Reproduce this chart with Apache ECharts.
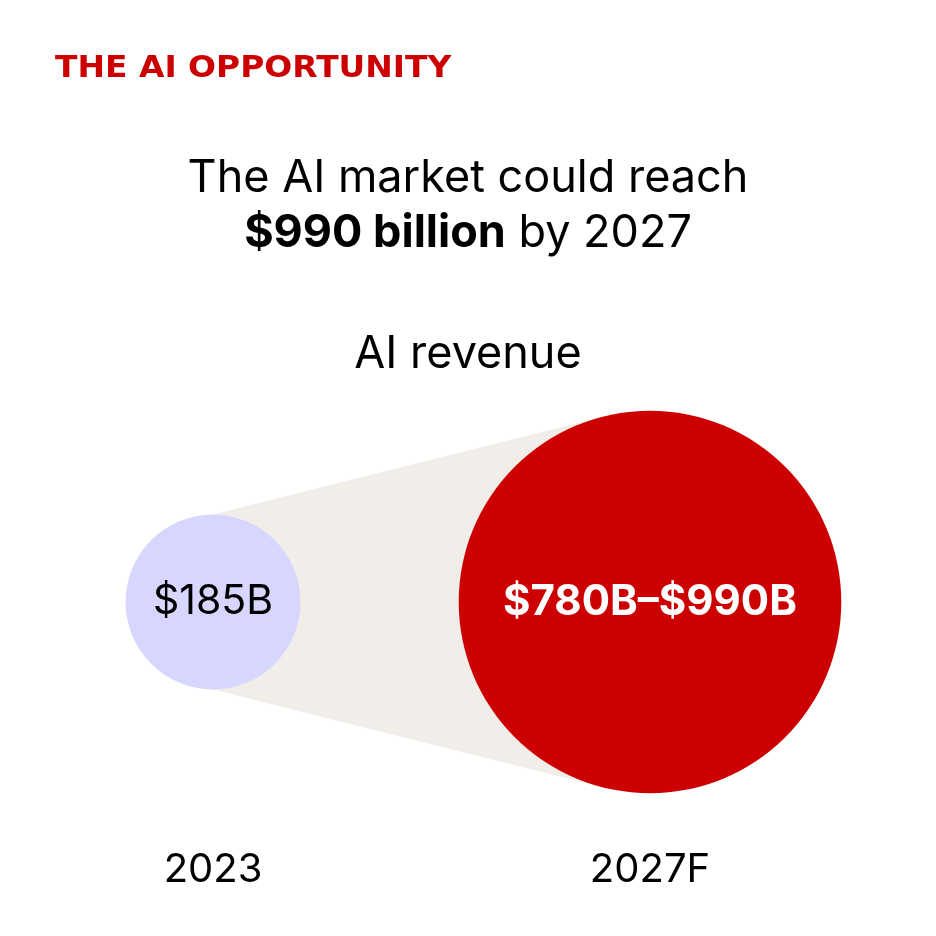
<!DOCTYPE html>
<html>
<head>
<meta charset="utf-8">
<script src="https://cdn.jsdelivr.net/npm/echarts@6/dist/echarts.min.js"></script>
<style>
  html, body { margin: 0; padding: 0; background: #ffffff; }
  #chart { width: 936px; height: 936px; }
</style>
</head>
<body>
<div id="chart"></div>
<script>
// ---- data ----
const categories = ['2023', '2027F'];
const revenueLow = [185, 780];    // $B
const revenueHigh = [185, 990];   // $B
const valueLabels = ['$185B', '$780B–$990B'];
const rowName = ['AI revenue'];

// ---- styling ----
const FONT = 'Inter, "Noto Sans", sans-serif';
const RED = '#cc0000';
const LAVENDER = '#d6d6ff';
const BEIGE = '#f1eee9';
const RADIUS_K = 6.43; // px per sqrt($B) -> circle area proportional to value

const mids = revenueLow.map((v, i) => (v + revenueHigh[i]) / 2);
const radiusOf = v => RADIUS_K * Math.sqrt(v);

const chart = echarts.init(document.getElementById('chart'), null, { renderer: 'canvas' });

const HEAD = { fontFamily: FONT, fontWeight: 'normal', fontSize: 45, lineHeight: 45, color: '#000' };

const option = {
  animation: false,
  backgroundColor: '#ffffff',
  graphic: [
    {
      type: 'text',
      x: 55, y: 69,
      scaleX: 1.097,
      silent: true,
      style: {
        text: 'THE AI OPPORTUNITY',
        fontFamily: '"DejaVu Sans", sans-serif',
        fontWeight: 'bold',
        fontSize: 30,
        fill: RED,
        align: 'left',
        verticalAlign: 'middle'
      }
    }
  ],
  title: [
    {
      text: 'The AI market could reach',
      left: 'center', top: 156, padding: 0,
      textStyle: HEAD
    },
    {
      text: '{b|$990 billion} {n|by 2027}',
      left: 'center', top: 211, padding: 0,
      textStyle: Object.assign({}, HEAD, {
        rich: {
          b: Object.assign({}, HEAD, { fontWeight: 'bold' }),
          n: HEAD
        }
      })
    },
    {
      text: rowName[0],
      left: 'center', top: 332, padding: 0,
      textStyle: HEAD
    }
  ],
  grid: { left: 213, right: 286, top: 412, bottom: 144 },
  xAxis: {
    type: 'category',
    data: categories,
    boundaryGap: false,
    axisLine: { show: false },
    axisTick: { show: false },
    splitLine: { show: false },
    axisLabel: {
      margin: 58,
      fontFamily: FONT, fontSize: 40, lineHeight: 40, color: '#000'
    }
  },
  yAxis: {
    type: 'category',
    data: rowName,
    show: false
  },
  series: [
    {
      type: 'custom',
      z: 1,
      silent: true,
      clip: false,
      data: [[0, 0]],
      renderItem: function (params, api) {
        const c1 = api.coord([0, 0]);
        const c2 = api.coord([1, 0]);
        const r1 = radiusOf(mids[0]);
        const r2 = radiusOf(mids[1]);
        const top = [c1[0], c1[1] - r1];
        const bot = [c1[0], c1[1] + r1];
        function tangent(P, sign) {
          const dx = c2[0] - P[0], dy = c2[1] - P[1];
          const D = Math.sqrt(dx * dx + dy * dy);
          const L = Math.sqrt(D * D - r2 * r2);
          const base = Math.atan2(dy, dx);
          const a = base + sign * Math.asin(r2 / D);
          return [P[0] + L * Math.cos(a), P[1] + L * Math.sin(a)];
        }
        const tTop = tangent(top, -1);
        const tBot = tangent(bot, 1);
        return {
          type: 'polygon',
          shape: { points: [top, tTop, c2, tBot, bot, c1] },
          style: { fill: BEIGE, stroke: null }
        };
      }
    },
    {
      type: 'scatter',
      z: 2,
      silent: true,
      clip: false,
      symbol: 'circle',
      symbolSize: function (val) { return 2 * radiusOf(val[2]); },
      data: [
        {
          value: [0, 0, mids[0]],
          itemStyle: { color: LAVENDER, opacity: 1 },
          label: {
            show: true, position: 'inside', formatter: valueLabels[0],
            fontFamily: FONT, fontWeight: 'normal', fontSize: 41, color: '#000'
          }
        },
        {
          value: [1, 0, mids[1]],
          itemStyle: { color: RED, opacity: 1 },
          label: {
            show: true, position: 'inside', formatter: valueLabels[1],
            fontFamily: FONT, fontWeight: 'bold', fontSize: 42, color: '#fff'
          }
        }
      ]
    }
  ]
};

chart.setOption(option);
</script>
</body>
</html>
